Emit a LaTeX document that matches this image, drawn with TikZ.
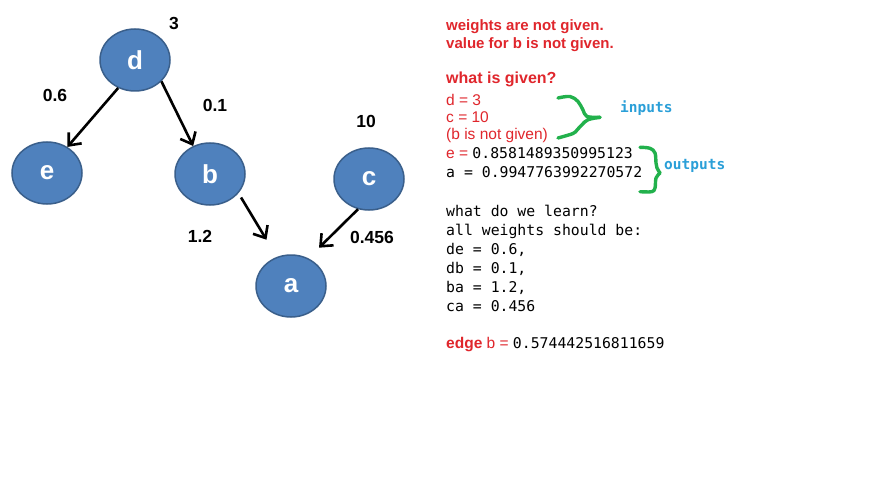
\documentclass[tikz,border=0pt]{standalone}
\usepackage{fontspec}
\setmainfont{Liberation Sans}
\newfontfamily\monofont{DejaVu Sans Mono}
\usetikzlibrary{shapes.geometric,arrows.meta}
\definecolor{nodefill}{HTML}{4F81BD}
\definecolor{nodeline}{HTML}{3A5F8B}
\definecolor{redtxt}{HTML}{E0262C}
\definecolor{bracegreen}{HTML}{22B14C}
\definecolor{bluetxt}{HTML}{2A9FD8}
\begin{document}
\begin{tikzpicture}[x=1pt,y=-1pt,
  vert/.style={ellipse, fill=nodefill, draw=nodeline, line width=1.5pt,
    minimum width=70pt, minimum height=62pt, inner sep=0pt, text=white,
    font=\fontsize{26}{26}\selectfont\bfseries},
  wlabel/.style={font=\fontsize{17.5}{17.5}\selectfont\bfseries, inner sep=0pt},
  arr/.style={-{Straight Barb[length=10pt,width=17pt]}, line width=2.6pt},
  txt/.style={anchor=base west, inner sep=0pt},
  redbold/.style={txt, text=redtxt, font=\fontsize{15}{15}\selectfont\bfseries},
  redreg/.style={txt, text=redtxt, font=\fontsize{15.5}{15.5}\selectfont},
  monotxt/.style={txt, font=\fontsize{14.8}{14.8}\selectfont\monofont},
  bluemono/.style={txt, text=bluetxt, font=\fontsize{14.5}{14.5}\selectfont\monofont\bfseries},
  bracestyle/.style={draw=bracegreen, line width=3.4pt, line cap=round, line join=round}
]
\fill[white] (0,0) rectangle (885,489);
\useasboundingbox (0,0) rectangle (885,489);

% graph nodes
\node[vert] (d) at (135,60) {d};
\node[vert] (e) at (47,173) {e};
\node[vert] (b) at (210,174) {b};
\node[vert] (c) at (369,179) {c};
\node[vert] (a) at (291,286) {a};

% connectors
\draw[arr] (d.-121) -- (e.52);
\draw[arr] (d.-39) -- (b.121);
\draw[arr, shorten <=5pt, shorten >=20pt] (b.-34) -- (a.116);
\draw[arr, shorten >=15pt] (c.-110) -- (a.58);

% weight / value labels
\node[wlabel] (l3) at (174,23) {3};
\node[wlabel] (l06) at (55,95) {0.6};
\node[wlabel] (l01) at (215,105) {0.1};
\node[wlabel] (l10) at (366,121) {10};
\node[wlabel] (l12) at (200,236) {1.2};
\node[wlabel] (l0456) at (372,237) {0.456};

% right-hand text
\node[redbold] (t1) at (446,31) {weights are not given.};
\node[redbold] (t2) at (446,48.5) {value for b is not given.};
\node[redbold, font=\fontsize{16}{16}\selectfont\bfseries] (t3) at (446,84) {what is given?};
\node[redreg] (t4) at (446,105.5) {d = 3};
\node[redreg] (t5) at (446,122.5) {c = 10};
\node[redreg] (t6) at (446,139.5) {(b is not given)};
\node[txt] (t7) at (446,159) {\textcolor{redtxt}{\fontsize{15.5}{15.5}\selectfont e = }{\fontsize{14.8}{14.8}\selectfont\monofont 0.8581489350995123}};
\node[monotxt] (t8) at (446,178) {a = 0.9947763992270572};

\node[monotxt] (t9) at (446,216.5) {what do we learn?};
\node[monotxt] (t10) at (446,235.5) {all weights should be:};
\node[monotxt] (t11) at (446,254.5) {de = 0.6,};
\node[monotxt] (t12) at (446,273.5) {db = 0.1,};
\node[monotxt] (t13) at (446,292.5) {ba = 1.2,};
\node[monotxt] (t14) at (446,311.5) {ca = 0.456};
\node[txt] (t15) at (446,348) {\textcolor{redtxt}{\fontsize{15.5}{15.5}\selectfont\bfseries edge}\textcolor{redtxt}{\fontsize{15.5}{15.5}\selectfont{} b = }{\fontsize{14.8}{14.8}\selectfont\monofont 0.574442516811659}};

\node[bluemono] (inp) at (620,113) {inputs};
\node[bluemono] (outp) at (664,170) {outputs};

% green hand-drawn braces
\draw[bracestyle] plot[smooth, tension=0.6] coordinates {(558,98) (570,96.5) (578,101.5) (583,110) (587,116.5) (600,117.3)};
\draw[bracestyle] plot[smooth, tension=0.6] coordinates {(600,117.3) (588,119.7) (582,124.7) (577,130) (573,133.5) (558,138)};
\draw[bracestyle] plot[smooth, tension=0.6] coordinates {(640,147.3) (650,148.3) (655,153) (656,163) (657,168) (660,173)};
\draw[bracestyle] plot[smooth, tension=0.6] coordinates {(660,173) (656,178) (655,188) (651.7,191.7) (640,191.7)};
\end{tikzpicture}
\end{document}
